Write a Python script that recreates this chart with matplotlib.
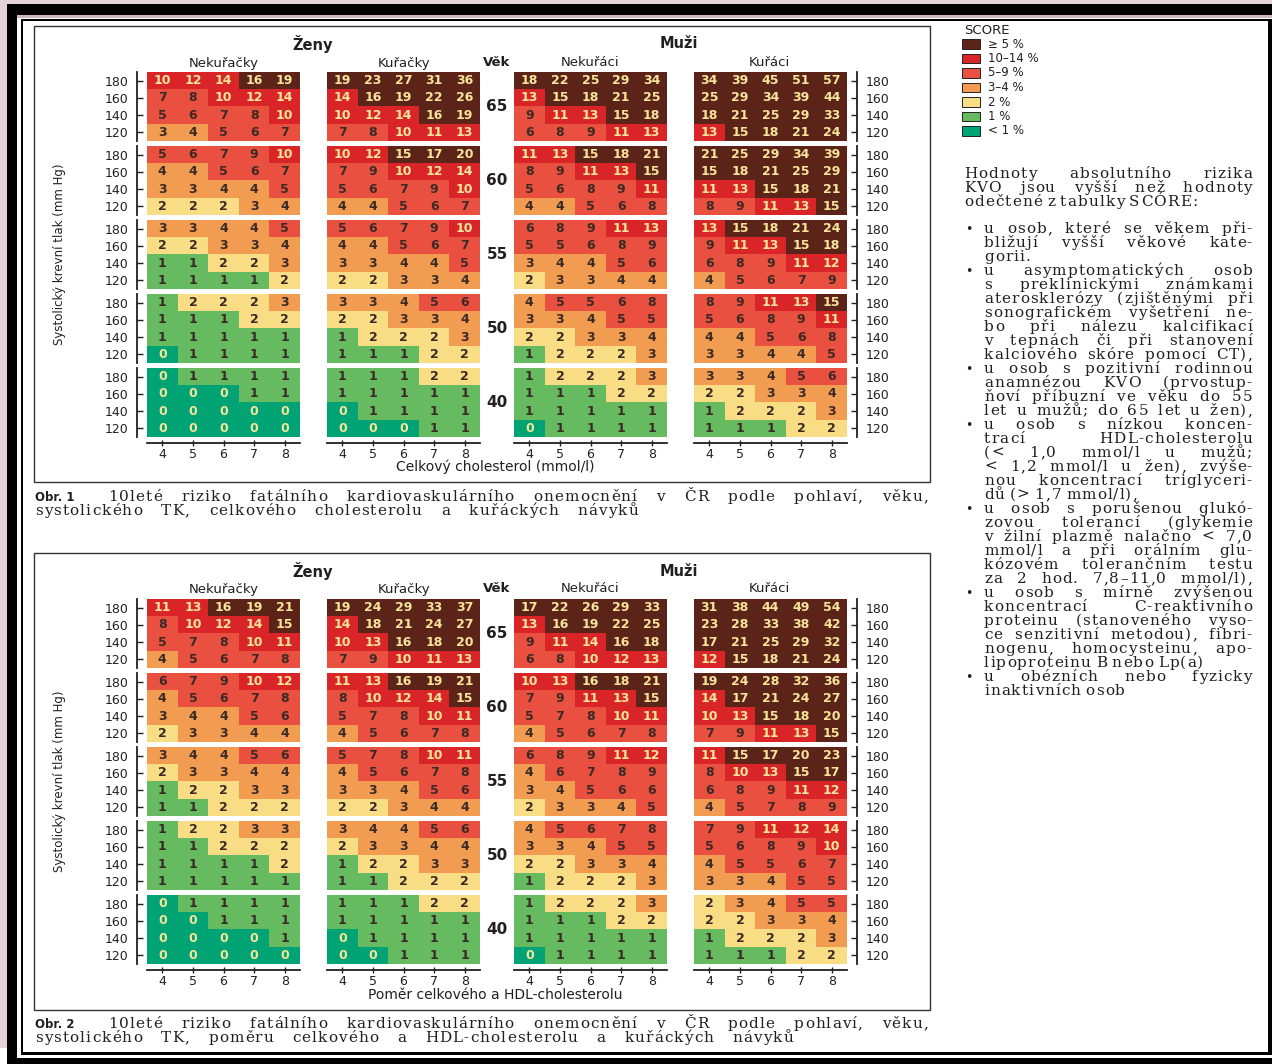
import numpy as np
import matplotlib
matplotlib.use('Agg')
import matplotlib.pyplot as plt
from matplotlib.colors import ListedColormap, BoundaryNorm
from matplotlib.patches import Rectangle
from matplotlib.font_manager import FontProperties

# x = cholesterol (or TC/HDL ratio), rows = systolic BP 180/160/140/120
x_levels = [4, 5, 6, 7, 8]
bp_levels = [180, 160, 140, 120]
ages = [65, 60, 55, 50, 40]

# SCORE, total cholesterol
tc_women_non = [
    [[10, 12, 14, 16, 19], [7, 8, 10, 12, 14], [5, 6, 7, 8, 10], [3, 4, 5, 6, 7]],
    [[5, 6, 7, 9, 10], [4, 4, 5, 6, 7], [3, 3, 4, 4, 5], [2, 2, 2, 3, 4]],
    [[3, 3, 4, 4, 5], [2, 2, 3, 3, 4], [1, 1, 2, 2, 3], [1, 1, 1, 1, 2]],
    [[1, 2, 2, 2, 3], [1, 1, 1, 2, 2], [1, 1, 1, 1, 1], [0, 1, 1, 1, 1]],
    [[0, 1, 1, 1, 1], [0, 0, 0, 1, 1], [0, 0, 0, 0, 0], [0, 0, 0, 0, 0]],
]
tc_women_smk = [
    [[19, 23, 27, 31, 36], [14, 16, 19, 22, 26], [10, 12, 14, 16, 19], [7, 8, 10, 11, 13]],
    [[10, 12, 15, 17, 20], [7, 9, 10, 12, 14], [5, 6, 7, 9, 10], [4, 4, 5, 6, 7]],
    [[5, 6, 7, 9, 10], [4, 4, 5, 6, 7], [3, 3, 4, 4, 5], [2, 2, 3, 3, 4]],
    [[3, 3, 4, 5, 6], [2, 2, 3, 3, 4], [1, 2, 2, 2, 3], [1, 1, 1, 2, 2]],
    [[1, 1, 1, 2, 2], [1, 1, 1, 1, 1], [0, 1, 1, 1, 1], [0, 0, 0, 1, 1]],
]
tc_men_non = [
    [[18, 22, 25, 29, 34], [13, 15, 18, 21, 25], [9, 11, 13, 15, 18], [6, 8, 9, 11, 13]],
    [[11, 13, 15, 18, 21], [8, 9, 11, 13, 15], [5, 6, 8, 9, 11], [4, 4, 5, 6, 8]],
    [[6, 8, 9, 11, 13], [5, 5, 6, 8, 9], [3, 4, 4, 5, 6], [2, 3, 3, 4, 4]],
    [[4, 5, 5, 6, 8], [3, 3, 4, 5, 5], [2, 2, 3, 3, 4], [1, 2, 2, 2, 3]],
    [[1, 2, 2, 2, 3], [1, 1, 1, 2, 2], [1, 1, 1, 1, 1], [0, 1, 1, 1, 1]],
]
tc_men_smk = [
    [[34, 39, 45, 51, 57], [25, 29, 34, 39, 44], [18, 21, 25, 29, 33], [13, 15, 18, 21, 24]],
    [[21, 25, 29, 34, 39], [15, 18, 21, 25, 29], [11, 13, 15, 18, 21], [8, 9, 11, 13, 15]],
    [[13, 15, 18, 21, 24], [9, 11, 13, 15, 18], [6, 8, 9, 11, 12], [4, 5, 6, 7, 9]],
    [[8, 9, 11, 13, 15], [5, 6, 8, 9, 11], [4, 4, 5, 6, 8], [3, 3, 4, 4, 5]],
    [[3, 3, 4, 5, 6], [2, 2, 3, 3, 4], [1, 2, 2, 2, 3], [1, 1, 1, 2, 2]],
]

# SCORE, total / HDL cholesterol ratio
ratio_women_non = [
    [[11, 13, 16, 19, 21], [8, 10, 12, 14, 15], [5, 7, 8, 10, 11], [4, 5, 6, 7, 8]],
    [[6, 7, 9, 10, 12], [4, 5, 6, 7, 8], [3, 4, 4, 5, 6], [2, 3, 3, 4, 4]],
    [[3, 4, 4, 5, 6], [2, 3, 3, 4, 4], [1, 2, 2, 3, 3], [1, 1, 2, 2, 2]],
    [[1, 2, 2, 3, 3], [1, 1, 2, 2, 2], [1, 1, 1, 1, 2], [1, 1, 1, 1, 1]],
    [[0, 1, 1, 1, 1], [0, 0, 1, 1, 1], [0, 0, 0, 0, 1], [0, 0, 0, 0, 0]],
]
ratio_women_smk = [
    [[19, 24, 29, 33, 37], [14, 18, 21, 24, 27], [10, 13, 16, 18, 20], [7, 9, 10, 11, 13]],
    [[11, 13, 16, 19, 21], [8, 10, 12, 14, 15], [5, 7, 8, 10, 11], [4, 5, 6, 7, 8]],
    [[5, 7, 8, 10, 11], [4, 5, 6, 7, 8], [3, 3, 4, 5, 6], [2, 2, 3, 4, 4]],
    [[3, 4, 4, 5, 6], [2, 3, 3, 4, 4], [1, 2, 2, 3, 3], [1, 1, 2, 2, 2]],
    [[1, 1, 1, 2, 2], [1, 1, 1, 1, 1], [0, 1, 1, 1, 1], [0, 0, 1, 1, 1]],
]
ratio_men_non = [
    [[17, 22, 26, 29, 33], [13, 16, 19, 22, 25], [9, 11, 14, 16, 18], [6, 8, 10, 12, 13]],
    [[10, 13, 16, 18, 21], [7, 9, 11, 13, 15], [5, 7, 8, 10, 11], [4, 5, 6, 7, 8]],
    [[6, 8, 9, 11, 12], [4, 6, 7, 8, 9], [3, 4, 5, 6, 6], [2, 3, 3, 4, 5]],
    [[4, 5, 6, 7, 8], [3, 3, 4, 5, 5], [2, 2, 3, 3, 4], [1, 2, 2, 2, 3]],
    [[1, 2, 2, 2, 3], [1, 1, 1, 2, 2], [1, 1, 1, 1, 1], [0, 1, 1, 1, 1]],
]
ratio_men_smk = [
    [[31, 38, 44, 49, 54], [23, 28, 33, 38, 42], [17, 21, 25, 29, 32], [12, 15, 18, 21, 24]],
    [[19, 24, 28, 32, 36], [14, 17, 21, 24, 27], [10, 13, 15, 18, 20], [7, 9, 11, 13, 15]],
    [[11, 15, 17, 20, 23], [8, 10, 13, 15, 17], [6, 8, 9, 11, 12], [4, 5, 7, 8, 9]],
    [[7, 9, 11, 12, 14], [5, 6, 8, 9, 10], [4, 5, 5, 6, 7], [3, 3, 4, 5, 5]],
    [[2, 3, 4, 5, 5], [2, 2, 3, 3, 4], [1, 2, 2, 2, 3], [1, 1, 1, 2, 2]],
]

panel_names = ['Nekuřačky', 'Kuřačky', 'Nekuřáci', 'Kuřáci']
legend_labels = ['≥ 5 %', '10–14 %', '5–9 %', '3–4 %', '2 %', '1 %', '< 1 %']

# colour classes: <1, 1, 2, 3-4, 5-9, 10-14, >=15
class_colors = ['#00a374', '#66ba60', '#f9dd85', '#f29c52', '#ea5040', '#da2528', '#5c2419']
cmap = ListedColormap(class_colors)
norm = BoundaryNorm([-0.5, 0.5, 1.5, 2.5, 4.5, 9.5, 14.5, 100], cmap.N)
DARK = '#3a2a25'
LIGHT = '#f6e59a'
INK = '#231f20'

W, H = 1272, 1064
fig = plt.figure(figsize=(W / 100, H / 100), dpi=100)
fig.patch.set_facecolor('white')
renderer = fig.canvas.get_renderer()


def fx(x):
    return x / W


def fy(y):
    return 1 - y / H


def box(x0, y0, x1, y1, **kw):
    fig.add_artist(Rectangle((fx(x0), fy(y1)), (x1 - x0) / W, (y1 - y0) / H,
                             transform=fig.transFigure, **kw))


# page frame
PINK = '#e5d3dc'
box(0, 0, W, 4, color=PINK, lw=0)
box(0, 0, 7, 1048, color=PINK, lw=0)
box(7, 4, W, 15, color='black', lw=0)
box(7, 4, 17, H, color='black', lw=0)
box(17, 15, W, 18, color='#c9b6c0', lw=0)
box(21, 19, W, 21, color='black', lw=0)
box(21, 19, 23, 1055, color='black', lw=0)
box(1268, 19, W, 1055, color='black', lw=0)
box(21, 1052, W, 1055, color='black', lw=0)
box(7, 1058, W, H, color='black', lw=0)

PANEL_X = [(147, 300), (327, 480), (514, 667), (694, 847)]
BLOCK_H = 69


def draw_panel(blocks, x0, x1, tops, side):
    for k, vals in enumerate(blocks):
        top = tops[k]
        ax = fig.add_axes([fx(x0), fy(top + BLOCK_H), (x1 - x0) / W, BLOCK_H / H])
        arr = np.array(vals)
        ax.imshow(arr, cmap=cmap, norm=norm, extent=(3.5, 8.5, 110, 190),
                  aspect='auto', interpolation='nearest')
        ax.set_xlim(3.5, 8.5)
        ax.set_ylim(110, 190)
        for i, b in enumerate(bp_levels):
            for j, c in enumerate(x_levels):
                v = arr[i, j]
                ax.text(c, b, str(v), ha='center', va='center', fontsize=9,
                        fontweight='bold', color=LIGHT if (v >= 10 or v == 0) else DARK)
        for s in ax.spines.values():
            s.set_visible(False)
        ax.set_xticks([])
        ax.set_yticks([])
        if side in ('left', 'right'):
            sp = ax.spines[side]
            sp.set_visible(True)
            sp.set_position(('outward', 7.2))
            sp.set_linewidth(1.3)
            sp.set_color(INK)
            ax.set_yticks(bp_levels)
            ax.yaxis.set_ticks_position(side)
            ax.tick_params(axis='y', direction='in', length=4.5, width=1, pad=6,
                           labelsize=9, colors=INK,
                           labelleft=(side == 'left'), labelright=(side == 'right'))
        if k == len(blocks) - 1:
            sp = ax.spines['bottom']
            sp.set_visible(True)
            sp.set_position(('outward', 4.3))
            sp.set_linewidth(1.3)
            sp.set_color(INK)
            ax.set_xticks(x_levels)
            ax.tick_params(axis='x', direction='inout', length=4, width=1, pad=1.5,
                           labelsize=9, colors=INK)


charts = [
    dict(data=[tc_women_non, tc_women_smk, tc_men_non, tc_men_smk],
         box=(34, 26, 930, 482), tops=[72 + 74 * i for i in range(5)],
         y_title=44, y_sub=63, xlabel='Celkový cholesterol (mmol/l)', y_xlabel=467),
    dict(data=[ratio_women_non, ratio_women_smk, ratio_men_non, ratio_men_smk],
         box=(34, 553, 930, 1010), tops=[599 + 74 * i for i in range(5)],
         y_title=571, y_sub=589, xlabel='Poměr celkového a HDL-cholesterolu', y_xlabel=995),
]

for ch in charts:
    bx0, by0, bx1, by1 = ch['box']
    box(bx0, by0, bx1, by1, fill=False, ec='#333333', lw=1.0)
    tops = ch['tops']
    for p, (blocks, (x0, x1)) in enumerate(zip(ch['data'], PANEL_X)):
        side = 'left' if p == 0 else ('right' if p == 3 else None)
        draw_panel(blocks, x0, x1, tops, side)
    fig.text(fx(313), fy(ch['y_title']), 'Ženy', ha='center', va='center',
             fontsize=10.5, fontweight='bold', color=INK)
    fig.text(fx(679), fy(ch['y_title']), 'Muži', ha='center', va='center',
             fontsize=10.5, fontweight='bold', color=INK)
    for name, xc in zip(panel_names, [224, 404, 590, 769]):
        fig.text(fx(xc), fy(ch['y_sub']), name, ha='center', va='center',
                 fontsize=9.5, color=INK)
    fig.text(fx(497), fy(ch['y_sub']), 'Věk', ha='center', va='center',
             fontsize=9.5, fontweight='bold', color=INK)
    for age, top in zip(ages, tops):
        fig.text(fx(497), fy(top + BLOCK_H / 2), str(age), ha='center', va='center',
                 fontsize=11, fontweight='bold', color=INK)
    fig.text(fx(60), fy((tops[0] + tops[-1] + BLOCK_H) / 2),
             'Systolický krevní tlak (mm Hg)', rotation=90, ha='center', va='center',
             fontsize=8.5, color=INK, family=['Liberation Sans Narrow', 'DejaVu Sans'])
    fig.text(fx(495), fy(ch['y_xlabel']), ch['xlabel'], ha='center', va='center',
             fontsize=10, color=INK)

# legend
fig.text(fx(964), fy(31), 'SCORE', ha='left', va='center', fontsize=9.5, color=INK)
for k, (lab, col) in enumerate(zip(legend_labels, class_colors[::-1])):
    yc = 44 + 14.5 * k
    box(962, yc - 4.5, 980, yc + 4.5, facecolor=col, edgecolor='#222222', lw=0.7)
    fig.text(fx(988), fy(yc), lab, ha='left', va='center', fontsize=8.5, color=INK)

# letter-spaced serif text
SERIF = FontProperties(family='DejaVu Serif', size=11)
_cw = {}


def char_w(c, prop):
    if c not in _cw:
        w, _, _ = renderer.get_text_width_height_descent(c, prop, ismath=False)
        _cw[c] = w
    return _cw[c]


def tracked_line(s, x0, y, x1=None, prop=SERIF, track=1.1, color=INK):
    words = s.split(' ')
    cw = [[char_w(c, prop) for c in w] for w in words]
    n_inner = sum(len(w) - 1 for w in words)
    ink = sum(sum(c) for c in cw)
    space = 5.0
    tr = track
    gap = space
    if x1 is not None and len(words) > 1:
        gap = (x1 - x0 - ink - tr * n_inner) / (len(words) - 1)
        if gap < space * 0.8:
            tr = max(0.0, (x1 - x0 - ink - space * 0.8 * (len(words) - 1)) / max(n_inner, 1))
            gap = (x1 - x0 - ink - tr * n_inner) / (len(words) - 1)
    x = x0
    for w, ws in zip(words, cw):
        for c, cwid in zip(w, ws):
            fig.text(fx(x), fy(y), c, fontproperties=prop, ha='left', va='baseline', color=color)
            x += cwid + tr
        x += gap - tr


# captions
captions = [
    ('Obr. 1', 501, ['10leté riziko fatálního kardiovaskulárního onemocnění v ČR podle pohlaví, věku,',
                     'systolického TK, celkového cholesterolu a kuřáckých návyků'], 638),
    ('Obr. 2', 1028, ['10leté riziko fatálního kardiovaskulárního onemocnění v ČR podle pohlaví, věku,',
                      'systolického TK, poměru celkového a HDL-cholesterolu a kuřáckých návyků'], 793),
]
for tag, yb, lines, x_end in captions:
    fig.text(fx(35), fy(yb), tag, ha='left', va='baseline', fontsize=8.5,
             fontweight='bold', color=INK)
    tracked_line(lines[0], 108, yb, 928)
    tracked_line(lines[1], 35, yb + 14, x_end)

# side note text: (line, justified)
intro = [
    ('Hodnoty absolutního rizika', True),
    ('KVO jsou vyšší než hodnoty', True),
    ('odečtené z tabulky SCÓRE:', False),
]
bullets = [
    [('u osob, které se věkem při-', True), ('bližují vyšší věkové kate-', True),
     ('gorii.', False)],
    [('u asymptomatických osob', True), ('s preklinickými známkami', True),
     ('aterosklerózy (zjištěnými při', True), ('sonografickém vyšetření ne-', True),
     ('bo při nálezu kalcifikací', True), ('v tepnách či při stanovení', True),
     ('kalciového skóre pomocí CT),', True)],
    [('u osob s pozitivní rodinnou', True), ('anamnézou KVO (prvostup-', True),
     ('ňoví příbuzní ve věku do 55', True), ('let u mužů; do 65 let u žen),', True)],
    [('u osob s nízkou koncen-', True), ('trací HDL-cholesterolu', True),
     ('(< 1,0 mmol/l u mužů;', True), ('< 1,2 mmol/l u žen), zvýše-', True),
     ('nou koncentrací triglyceri-', True), ('dů (> 1,7 mmol/l),', False)],
    [('u osob s porušenou glukó-', True), ('zovou tolerancí (glykemie', True),
     ('v žilní plazmě nalačno < 7,0', True), ('mmol/l a při orálním glu-', True),
     ('kózovém tolerančním testu', True), ('za 2 hod. 7,8–11,0 mmol/l),', True)],
    [('u osob s mírně zvýšenou', True), ('koncentrací C-reaktivního', True),
     ('proteinu (stanoveného vyso-', True), ('ce senzitivní metodou), fibri-', True),
     ('nogenu, homocysteinu, apo-', True), ('lipoproteinu B nebo Lp(a)', False)],
    [('u obézních nebo fyzicky', True), ('inaktivních osob', False)],
]

yb = 178
for s, just in intro:
    tracked_line(s, 964, yb, 1252 if just else None)
    yb += 14

yb = 233
for item in bullets:
    fig.text(fx(965), fy(yb - 3.5), '•', ha='left', va='center', fontsize=9, color=INK)
    for s, just in item:
        tracked_line(s, 984, yb, 1252 if just else None)
        yb += 14

fig.savefig('out.png', dpi=100, facecolor=fig.get_facecolor())
